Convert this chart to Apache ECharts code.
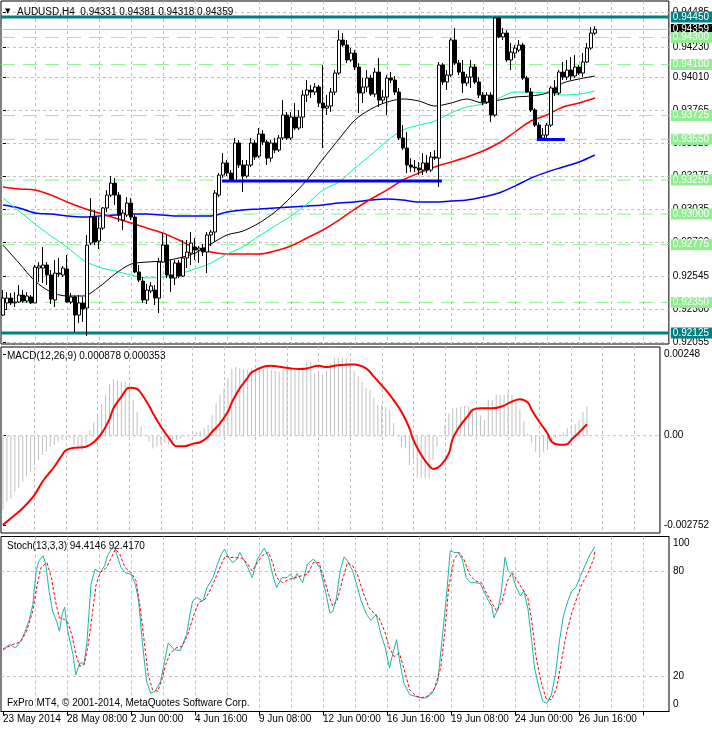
<!DOCTYPE html>
<html><head><meta charset="utf-8">
<script src="https://cdn.jsdelivr.net/npm/echarts@6/dist/echarts.min.js"></script>
<style>html,body{margin:0;padding:0;background:#fff}#c{width:712px;height:729px}</style>
</head><body><div id="c"></div>
<script>
const slotCount = 167;
const categories = Array.from({length: slotCount}, (_, i) => String(i));

const opens = [
0.92257,0.92346,0.92382,0.92346,0.92353,0.92404,0.92360,0.92390,0.92346,0.92603,
0.92603,0.92625,0.92552,0.92368,0.92566,0.92552,0.92596,0.92353,0.92390,0.92257,
0.92346,0.92309,0.92787,0.92978,0.92802,0.92897,0.93045,0.93140,0.93228,0.93140,
0.92956,0.92993,0.93081,0.92978,0.92574,0.92507,0.92368,0.92434,0.92441,0.92382,
0.92647,0.92772,0.92552,0.92529,0.92640,0.92544,0.92677,0.92713,0.92758,0.92735,
0.92750,0.92721,0.92846,0.92868,0.93140,0.93287,0.93376,0.93302,0.93243,0.93523,
0.93361,0.93280,0.93361,0.93523,0.93427,0.93589,0.93530,0.93412,0.93523,0.93471,
0.93560,0.93729,0.93560,0.93714,0.93633,0.93714,0.93876,0.93913,0.93898,0.93935,
0.93817,0.93780,0.93795,0.93898,0.94038,0.94281,0.94244,0.94134,0.94185,0.94082,
0.93891,0.93935,0.94001,0.93883,0.94045,0.93839,0.93861,0.94001,0.93986,0.93898,
0.93560,0.93486,0.93361,0.93346,0.93339,0.93324,0.93376,0.93324,0.93420,0.93412,
0.94097,0.93972,0.94023,0.94281,0.94111,0.94045,0.93964,0.94008,0.94082,0.93972,
0.93876,0.93824,0.93876,0.93729,0.94443,0.94303,0.94332,0.94134,0.94185,0.94207,
0.94244,0.94001,0.93898,0.93766,0.93655,0.93560,0.93582,0.93655,0.93928,0.93891,
0.94045,0.94008,0.94060,0.94016,0.94082,0.94038,0.94119,0.94222,0.94331];
const closes = [
0.92382,0.92382,0.92346,0.92353,0.92404,0.92360,0.92397,0.92346,0.92610,0.92618,
0.92625,0.92552,0.92375,0.92566,0.92559,0.92603,0.92353,0.92390,0.92257,0.92346,
0.92301,0.92772,0.92978,0.92794,0.92897,0.93045,0.93140,0.93228,0.93140,0.92993,
0.93008,0.93081,0.92978,0.92574,0.92515,0.92368,0.92441,0.92471,0.92382,0.92647,
0.92772,0.92552,0.92529,0.92640,0.92544,0.92677,0.92721,0.92787,0.92735,0.92750,
0.92721,0.92846,0.92868,0.93155,0.93287,0.93376,0.93302,0.93243,0.93523,0.93361,
0.93280,0.93361,0.93523,0.93420,0.93589,0.93530,0.93412,0.93523,0.93471,0.93560,
0.93729,0.93560,0.93714,0.93633,0.93714,0.93876,0.93913,0.93898,0.93935,0.93817,
0.93780,0.93795,0.93898,0.94038,0.94281,0.94244,0.94134,0.94185,0.94082,0.93891,
0.93935,0.94001,0.93883,0.94045,0.93839,0.93861,0.94001,0.93986,0.93898,0.93560,
0.93486,0.93361,0.93346,0.93339,0.93324,0.93376,0.93324,0.93420,0.93412,0.94097,
0.93972,0.94023,0.94281,0.94111,0.94045,0.93964,0.94008,0.94082,0.93972,0.93876,
0.93824,0.93876,0.93729,0.94443,0.94303,0.94332,0.94134,0.94192,0.94222,0.94244,
0.94001,0.93898,0.93766,0.93655,0.93560,0.93582,0.93655,0.93928,0.93891,0.94045,
0.94008,0.94060,0.94016,0.94082,0.94038,0.94119,0.94222,0.94332,0.94359];
const lows = [
0.92250,0.92294,0.92331,0.92316,0.92346,0.92346,0.92346,0.92338,0.92346,0.92500,
0.92493,0.92478,0.92338,0.92316,0.92537,0.92537,0.92346,0.92338,0.92132,0.92198,
0.92206,0.92103,0.92772,0.92772,0.92743,0.92883,0.93015,0.93125,0.93067,0.92942,
0.92883,0.92978,0.92956,0.92566,0.92500,0.92346,0.92338,0.92419,0.92331,0.92272,
0.92640,0.92529,0.92426,0.92478,0.92529,0.92537,0.92603,0.92625,0.92662,0.92640,
0.92691,0.92566,0.92765,0.92794,0.93125,0.93265,0.93280,0.93236,0.93236,0.93339,
0.93162,0.93265,0.93346,0.93398,0.93412,0.93508,0.93361,0.93383,0.93449,0.93457,
0.93545,0.93545,0.93545,0.93618,0.93618,0.93633,0.93824,0.93854,0.93876,0.93788,
0.93486,0.93729,0.93751,0.93876,0.94023,0.94229,0.94111,0.94119,0.94060,0.93744,
0.93817,0.93898,0.93869,0.93861,0.93788,0.93810,0.93729,0.93964,0.93876,0.93545,
0.93471,0.93302,0.93309,0.93309,0.93287,0.93287,0.93302,0.93309,0.93398,0.93199,
0.93950,0.93913,0.94008,0.94097,0.94023,0.93891,0.93942,0.93928,0.93957,0.93854,
0.93802,0.93810,0.93677,0.93714,0.94295,0.94281,0.94119,0.94060,0.94148,0.94192,
0.93986,0.93891,0.93751,0.93641,0.93545,0.93545,0.93538,0.93641,0.93869,0.93876,
0.93986,0.93986,0.93986,0.94001,0.94023,0.94008,0.94111,0.94207,0.94318];
const highs = [
0.92441,0.92426,0.92419,0.92426,0.92478,0.92441,0.92426,0.92404,0.92625,0.92647,
0.92758,0.92647,0.92588,0.92662,0.92677,0.92618,0.92699,0.92419,0.92400,0.92404,
0.92390,0.92846,0.93118,0.93030,0.92978,0.93052,0.93177,0.93280,0.93265,0.93162,
0.93030,0.93125,0.93118,0.92993,0.92625,0.92537,0.92485,0.92500,0.92478,0.92677,
0.92861,0.92846,0.92662,0.92662,0.92662,0.92809,0.92809,0.92868,0.92824,0.92765,
0.92780,0.92868,0.92883,0.93177,0.93302,0.93449,0.93398,0.93324,0.93560,0.93545,
0.93398,0.93398,0.93560,0.93545,0.93633,0.93618,0.93545,0.93545,0.93560,0.93582,
0.93839,0.93751,0.93751,0.93817,0.93766,0.93913,0.93986,0.93950,0.93964,0.93950,
0.94097,0.93876,0.93928,0.94060,0.94354,0.94332,0.94281,0.94222,0.94207,0.94111,
0.94001,0.94060,0.94023,0.94075,0.94148,0.93913,0.94023,0.94045,0.94016,0.93928,
0.93655,0.93604,0.93412,0.93398,0.93383,0.93449,0.93435,0.93457,0.93471,0.94119,
0.94111,0.94060,0.94295,0.94369,0.94134,0.94134,0.94031,0.94134,0.94104,0.94008,
0.93898,0.93898,0.93898,0.94450,0.94450,0.94369,0.94354,0.94259,0.94244,0.94281,
0.94259,0.94016,0.93928,0.93780,0.93677,0.93633,0.93670,0.93942,0.93986,0.94060,
0.94119,0.94134,0.94156,0.94170,0.94097,0.94185,0.94259,0.94376,0.94381];

const maBars = [0,4,8,12,16,20,24,28,32,36,40,44,48,52,56,60,64,68,72,76,80,84,88,92,96,100,104,108,112,116,120,124,128,132,136,140,144,148];
const maBlack = [0.92772,0.92640,0.92507,0.92427,0.92397,0.92397,0.92463,0.92559,0.92632,0.92647,0.92655,0.92677,0.92713,0.92780,0.92846,0.92875,0.92934,0.93015,0.93125,0.93251,0.93405,0.93552,0.93692,0.93773,0.93824,0.93847,0.93832,0.93795,0.93817,0.93847,0.93817,0.93839,0.93861,0.93869,0.93891,0.93964,0.93994,0.94016];
const maGreen = [0.93118,0.93022,0.92927,0.92839,0.92758,0.92662,0.92610,0.92581,0.92552,0.92530,0.92537,0.92559,0.92596,0.92640,0.92706,0.92758,0.92839,0.92912,0.92986,0.93074,0.93177,0.93236,0.93339,0.93435,0.93538,0.93619,0.93655,0.93685,0.93744,0.93788,0.93810,0.93854,0.93898,0.93898,0.93891,0.93876,0.93883,0.93905];
const maRed = [0.93199,0.93184,0.93177,0.93140,0.93089,0.93045,0.93008,0.92971,0.92934,0.92897,0.92861,0.92809,0.92750,0.92721,0.92706,0.92706,0.92706,0.92728,0.92765,0.92824,0.92883,0.92956,0.93037,0.93111,0.93177,0.93251,0.93302,0.93346,0.93383,0.93420,0.93464,0.93523,0.93604,0.93685,0.93729,0.93788,0.93817,0.93854];
const maBlue = [0.93067,0.93045,0.93008,0.93000,0.92986,0.92978,0.92986,0.92993,0.93000,0.93000,0.92993,0.92986,0.92986,0.92986,0.93015,0.93030,0.93037,0.93045,0.93052,0.93059,0.93067,0.93081,0.93089,0.93103,0.93111,0.93103,0.93089,0.93089,0.93096,0.93103,0.93125,0.93155,0.93206,0.93265,0.93309,0.93346,0.93383,0.93435];

const macdHist = [
-0.00227,-0.00202,-0.00192,-0.00171,-0.00161,-0.00141,-0.00125,-0.00110,-0.00090,-0.00074,
-0.00059,-0.00049,-0.00034,-0.00028,-0.00018,-0.00013,-0.00008,-0.00008,-0.00028,-0.00039,
-0.00044,-0.00028,0.00017,0.00041,0.00063,0.00096,0.00127,0.00157,0.00174,0.00170,
0.00165,0.00165,0.00145,0.00109,0.00073,0.00028,0.00002,-0.00018,-0.00039,-0.00034,
-0.00026,-0.00023,-0.00028,-0.00028,-0.00013,-0.00008,-0.00003,0.00001,0.00002,0.00010,
0.00014,0.00023,0.00033,0.00063,0.00099,0.00125,0.00145,0.00176,0.00206,0.00211,
0.00206,0.00204,0.00201,0.00206,0.00204,0.00206,0.00206,0.00211,0.00201,0.00198,
0.00196,0.00201,0.00206,0.00206,0.00206,0.00204,0.00211,0.00225,0.00226,0.00191,
0.00188,0.00188,0.00198,0.00222,0.00237,0.00239,0.00239,0.00237,0.00222,0.00198,
0.00181,0.00165,0.00145,0.00140,0.00116,0.00094,0.00094,0.00089,0.00079,0.00038,
0.00000,-0.00034,-0.00039,-0.00090,-0.00074,-0.00129,-0.00130,-0.00130,-0.00130,-0.00074,
-0.00034,0.00000,0.00033,0.00068,0.00084,0.00086,0.00089,0.00091,0.00089,0.00079,
0.00073,0.00063,0.00048,0.00109,0.00109,0.00126,0.00125,0.00125,0.00133,0.00125,
0.00109,0.00080,0.00045,0.00007,-0.00023,-0.00049,-0.00064,-0.00049,-0.00044,-0.00018,
-0.00008,0.00000,0.00010,0.00023,0.00028,0.00035,0.00048,0.00073,0.00088];
const macdSignal = [[0,-0.00273],[3,-0.00243],[5,-0.00222],[8,-0.00181],[10,-0.00141],[13,-0.00095],[15,-0.00059],[16,-0.00044],[18,-0.00037],[21,-0.00034],[23,-0.00020],[25,0.00007],[27,0.00051],[28,0.00084],[30,0.00119],[32,0.00147],[34,0.00143],[35,0.00130],[37,0.00092],[38,0.00069],[40,0.00028],[42,-0.00006],[44,-0.00032],[46,-0.00032],[48,-0.00025],[50,-0.00020],[52,-0.00003],[53,0.00012],[55,0.00038],[57,0.00073],[58,0.00102],[60,0.00145],[62,0.00177],[63,0.00194],[66,0.00211],[68,0.00214],[70,0.00211],[73,0.00206],[75,0.00204],[77,0.00206],[80,0.00214],[82,0.00210],[84,0.00214],[88,0.00218],[89,0.00218],[92,0.00206],[94,0.00181],[97,0.00140],[99,0.00109],[101,0.00073],[103,0.00023],[104,-0.00013],[106,-0.00059],[108,-0.00092],[109,-0.00102],[111,-0.00090],[113,-0.00054],[114,-0.00008],[116,0.00033],[118,0.00063],[119,0.00079],[121,0.00084],[124,0.00084],[127,0.00092],[128,0.00099],[131,0.00112],[133,0.00102],[134,0.00079],[136,0.00041],[138,0.00007],[139,-0.00018],[141,-0.00028],[143,-0.00026],[144,-0.00013],[146,0.00010],[148,0.00035]];

const stochK = [[0,35.9],[1.8,38.2],[3.1,36.3],[4.4,40.1],[5.4,44.9],[6.6,52.6],[7.45,61.2],[8.3,80.4],[9.0,86.1],[10.0,89.0],[10.7,84.2],[11.5,68.9],[12.4,57.4],[13.4,51.6],[14.1,45.9],[14.8,55.5],[15.4,59.7],[16.2,45.9],[17.5,32.5],[18.2,21.0],[19.2,27.7],[20.3,27.7],[21.0,40.1],[22.0,72.7],[23.0,81.3],[24.3,79.4],[25.4,83.2],[26.1,89.0],[27.1,92.8],[27.9,93.8],[28.8,87.1],[29.5,82.3],[30.5,79.4],[32.0,78.4],[33.1,72.7],[33.9,63.1],[34.9,38.2],[35.9,17.2],[36.9,10.5],[38.0,11.5],[39.4,17.2],[40.4,28.7],[41.3,39.2],[42.8,35.3],[44.3,34.8],[45.9,44.0],[46.9,57.4],[47.4,63.1],[48.4,65.1],[50.0,63.1],[51.0,70.8],[52.5,76.5],[53.6,84.2],[54.6,89.9],[55.4,92.8],[56.4,88.0],[57.4,85.1],[58.5,87.1],[59.2,90.9],[59.9,88.0],[61.2,82.3],[62.3,76.5],[63.6,87.1],[65.3,93.4],[66.4,88.0],[67.4,78.4],[68.4,70.8],[69.7,76.5],[71.0,76.5],[71.8,78.4],[72.8,75.5],[73.5,78.8],[74.9,73.6],[76.1,84.2],[77.6,87.1],[79.2,82.3],[80.7,67.9],[81.7,56.4],[82.4,57.0],[83.3,64.1],[84.3,80.4],[85.3,88.4],[86.1,86.1],[87.4,80.4],[88.4,72.7],[89.4,64.1],[90.9,55.4],[92.0,52.0],[93.3,55.4],[94.5,44.0],[95.6,36.3],[96.6,24.8],[97.6,34.4],[98.4,41.1],[99.1,29.6],[100.2,16.3],[101.7,9.6],[103.2,8.6],[104.8,7.7],[105.8,7.7],[107.3,10.5],[108.7,17.2],[109.9,44.0],[110.9,67.0],[111.8,91.8],[112.8,90.9],[113.8,90.9],[114.8,87.1],[115.8,76.5],[116.9,73.6],[118.1,73.6],[119.3,73.1],[120.4,67.9],[121.4,63.1],[122.2,60.3],[122.7,53.5],[123.7,58.3],[124.5,67.0],[125.5,88.0],[126.3,80.4],[127.3,78.4],[128.3,70.8],[129.4,66.0],[130.2,68.9],[131.2,59.3],[132.2,40.1],[132.9,24.8],[134.0,13.3],[135.0,5.7],[136.0,4.7],[137.1,9.5],[138.1,21.0],[139.1,40.1],[140.1,54.5],[141.2,63.1],[142.2,68.9],[143.2,70.8],[144.2,76.5],[145.3,82.3],[146.6,89.0],[147.6,92.8],[148,94.41]];
const stochD = [[0,35.3],[2.3,38.2],[4.4,39.8],[5.9,45.9],[7.45,57.4],[8.5,71.8],[9.5,82.3],[11.0,85.1],[12.1,76.5],[13.1,63.1],[14.1,53.5],[15.4,52.6],[16.2,50.7],[17.2,44.0],[18.2,32.5],[19.2,25.9],[20.3,26.8],[21.3,38.2],[22.3,55.4],[23.3,72.7],[24.3,79.4],[25.9,82.3],[26.9,87.1],[28.1,92.8],[29.2,89.9],[30.5,82.3],[32.0,79.4],[33.3,74.6],[34.3,59.3],[35.1,44.0],[36.3,21.0],[37.4,12.4],[38.7,11.5],[39.7,18.2],[40.7,26.8],[41.8,33.5],[43.3,36.3],[44.8,37.3],[46.2,44.0],[47.6,54.5],[48.9,62.2],[50.5,64.1],[51.7,68.9],[53.0,75.5],[54.4,83.2],[55.6,89.0],[56.6,88.0],[57.9,88.0],[59.7,87.6],[60.9,85.1],[62.3,80.4],[63.6,85.1],[64.8,89.0],[66.4,90.9],[67.4,85.1],[68.4,76.5],[69.9,73.6],[71.5,75.5],[73.0,76.5],[74.6,77.5],[76.1,78.4],[77.6,85.1],[79.0,85.1],[80.2,76.5],[81.4,66.9],[82.4,60.3],[83.5,63.1],[84.8,74.6],[86.1,85.1],[87.4,83.2],[88.6,78.4],[89.9,68.9],[91.5,59.3],[93.0,55.4],[94.0,53.5],[95.4,45.9],[96.6,36.3],[97.8,31.4],[99.1,33.3],[100.2,24.8],[101.7,12.3],[103.2,8.9],[104.8,7.9],[106.3,8.9],[107.9,13.3],[109.4,24.8],[110.4,44.0],[111.4,70.8],[112.8,87.1],[114.0,90.9],[115.2,87.1],[116.6,78.4],[118.1,74.6],[119.6,73.6],[121.0,67.0],[122.2,62.2],[123.4,57.4],[124.8,63.1],[126.1,74.6],[127.3,79.4],[128.6,74.6],[129.9,69.8],[131.2,65.1],[132.2,51.7],[133.3,30.6],[134.5,17.2],[135.7,7.7],[137.1,6.7],[138.4,13.4],[139.6,28.7],[140.8,44.0],[142.2,56.4],[143.5,65.1],[144.7,72.7],[146.3,79.4],[147.8,88.0],[148,92.42]];

const priceTicks = [0.92055,0.92300,0.92545,0.92790,0.93035,0.93275,0.93520,0.93765,0.94010,0.94230,0.94485];
const tealLevels = [0.94450, 0.92125];
const greenLevels = [0.94300,0.94100,0.93725,0.93550,0.93250,0.93000,0.92775,0.92350];
const blueTrends = [[54.75,109.75,0.93243],[133.5,140.5,0.93549]];
const macdTicks = [-0.002752, 0, 0.00248];
const macdTickLabels = ['-0.002752','0.00','0.00248'];
const macdLevels = [0];
const macdInfo = ['MACD(12,26,9)', '0.000878', '0.000353'];
const stochTicks = [0, 20, 80, 100];
const stochLevels = [20, 80];
const stochInfo = ['Stoch(13,3,3)', '94.4146', '92.4170'];
const gridBars = [8,16,24,32,40,48,56,64,72,80,88,96,104,112,120,128,136,144,152,160];
const xTickBars = [0,16,32,48,64,80,96,112,128,144];
const xTickLabels = ['23 May 2014','28 May 08:00','2 Jun 00:00','4 Jun 16:00','9 Jun 08:00','12 Jun 00:00','16 Jun 16:00','19 Jun 08:00','24 Jun 00:00','26 Jun 16:00'];
const symbolName = 'AUDUSD,H4';

const FONT = '"Liberation Sans", Arial, sans-serif';
const DASH = {color:'#c0c0c0', type:[3,3], width:1};
const last = opens.length - 1;
const xMin = -0.5, xMax = slotCount - 0.5;

const chart = echarts.init(document.getElementById('c'), null, {renderer:'canvas'});

function catAxis(g, showLabels) {
  return {type:'category', gridIndex:g, data:categories, boundaryGap:true, position:'bottom',
    axisLine:{show:showLabels, onZero:false, lineStyle:{color:'#000'}},
    axisTick:{show:showLabels, interval:15, alignWithLabel:true, length:4, lineStyle:{color:'#000'}},
    axisLabel:{show:showLabels, interval:15, align:'left', margin:3, fontSize:10, fontFamily:FONT, color:'#000',
      formatter:(v, i) => { const k = xTickBars.indexOf(i); return k >= 0 ? xTickLabels[k] : ''; }},
    splitLine:{show:false}};
}
function valAxis(g) {
  return {type:'value', gridIndex:g, min:xMin, max:xMax, position:'top', show:true,
    axisLine:{show:false}, axisLabel:{show:false},
    axisTick:{show:false, customValues:gridBars},
    splitLine:{show:true, lineStyle:DASH}};
}
function flatLine(xi, yi, v, style, z, label) {
  const s = {type:'line', xAxisIndex:xi, yAxisIndex:yi, data:[[xMin, v],[xMax, v]], symbol:'none',
    lineStyle:style, silent:true, z:z, animation:false};
  if (label) s.endLabel = label;
  return s;
}
function levelLabel(text, bg) {
  return {show:true, distance:2, formatter:text, backgroundColor:bg, color:'#fff', valueAnimation:false,
    padding:[1,8,0,2], lineHeight:10, fontSize:10, fontFamily:FONT};
}

const series = [];
// price levels (horizontal lines with boxed price tags on the right)
series.push(flatLine(3, 0, closes[last], {color:'#c0c0c0', width:1, type:'solid'}, 1, levelLabel(closes[last].toFixed(5), '#000')));
tealLevels.forEach(p => series.push(flatLine(3, 0, p, {color:'#008080', width:3, type:'solid'}, 1.2, levelLabel(p.toFixed(5), '#008080'))));
greenLevels.forEach(p => series.push(flatLine(3, 0, p, {color:'#90ee90', width:1, type:[14,8]}, 1.4, levelLabel(p.toFixed(5), '#90ee90'))));

const maDefs = [[maBlue,'#0000ff',1.5],[maRed,'#ff0000',1.5],[maGreen,'#00fa9a',1],[maBlack,'#000000',1]];
maDefs.forEach(([arr, col, w]) => series.push({type:'line', xAxisIndex:3, yAxisIndex:0,
  data: maBars.map((b, i) => [b, arr[i]]), symbol:'none', smooth:0.3, lineStyle:{color:col, width:w}, z:2, silent:true, animation:false}));
series.push({type:'candlestick', xAxisIndex:0, yAxisIndex:0, barWidth:3, z:4, silent:true, animation:false,
  data: opens.map((o, i) => [o, closes[i], lows[i], highs[i]]),
  itemStyle:{color:'#ffffff', color0:'#000000', borderColor:'#000000', borderColor0:'#000000', borderColorDoji:'#000000', borderWidth:1}});
blueTrends.forEach(([a, b, p]) => series.push({type:'line', xAxisIndex:3, yAxisIndex:0, data:[[a,p],[b,p]], symbol:'none',
  lineStyle:{color:'#0000ff', width:3}, z:5, silent:true, animation:false}));

macdLevels.forEach(v => series.push(flatLine(4, 1, v, DASH, 1)));
series.push({type:'bar', xAxisIndex:1, yAxisIndex:1, data:macdHist, barWidth:1, itemStyle:{color:'#c0c0c0'}, z:2, silent:true, animation:false});
series.push({type:'line', xAxisIndex:4, yAxisIndex:1, data:macdSignal, symbol:'none', smooth:0.4, lineStyle:{color:'#ff0000', width:2}, z:3, silent:true, animation:false});

stochLevels.forEach(v => series.push(flatLine(5, 2, v, DASH, 1)));
series.push({type:'line', xAxisIndex:5, yAxisIndex:2, data:stochK, symbol:'none', lineStyle:{color:'#20b2aa', width:1}, z:3, silent:true, animation:false});
series.push({type:'line', xAxisIndex:5, yAxisIndex:2, data:stochD, symbol:'none', lineStyle:{color:'#ff0000', width:1, type:[3,2]}, z:3, silent:true, animation:false});

const labelBase = {margin:4, fontSize:10, fontFamily:FONT, color:'#000'};
const titleText = symbolName + '  ' + [opens[last], highs[last], lows[last], closes[last]].map(v => v.toFixed(5)).join(' ');

chart.setOption({
  animation:false,
  backgroundColor:'#ffffff',
  grid:[
    {left:1, right:43, top:1, height:343, show:true, borderColor:'#000', borderWidth:1},
    {left:1, right:43, top:347, height:186, show:true, borderColor:'#000', borderWidth:1},
    {left:1, right:43, top:536.5, height:175, show:true, borderColor:'#000', borderWidth:1}
  ],
  xAxis:[catAxis(0,false), catAxis(1,false), catAxis(2,true), valAxis(0), valAxis(1), valAxis(2)],
  yAxis:[
    {type:'value', gridIndex:0, position:'right', min:0.92044, max:0.94568,
     axisLine:{show:false}, axisTick:{show:true, length:3, customValues:priceTicks, lineStyle:{color:'#000'}},
     axisLabel:Object.assign({customValues:priceTicks, formatter:v => v.toFixed(5)}, labelBase),
     splitLine:{show:true, lineStyle:DASH}},
    {type:'value', gridIndex:1, position:'right', min:-0.002979, max:0.002716,
     axisLine:{show:false}, axisTick:{show:true, length:3, customValues:macdTicks, lineStyle:{color:'#000'}},
     axisLabel:Object.assign({customValues:macdTicks, formatter:v => { const k = macdTicks.indexOf(v); return k >= 0 ? macdTickLabels[k] : ''; }}, labelBase),
     splitLine:{show:false}},
    {type:'value', gridIndex:2, position:'right', min:0, max:100,
     axisLine:{show:false}, axisTick:{show:false, customValues:stochTicks},
     axisLabel:Object.assign({customValues:stochTicks,
       formatter:v => v === 100 ? '{t|100}' : (v === 0 ? '{b|0}' : '{m|' + v + '}'),
       rich:{t:{padding:[13,0,0,0], lineHeight:11, fontSize:10, fontFamily:FONT}, b:{padding:[0,0,15,0], lineHeight:11, fontSize:10, fontFamily:FONT}, m:{lineHeight:11, fontSize:10, fontFamily:FONT}}}, labelBase),
     splitLine:{show:false}}
  ],
  graphic:[
    {type:'text', left:5, top:8, z:100, style:{text:'\u25BC', font:'7px "DejaVu Sans"', fill:'#000'}},
    {type:'text', left:17, top:7, z:100, style:{text:titleText, font:'10px ' + FONT, fill:'#000'}},
    {type:'text', left:7, top:351, z:100, style:{text:macdInfo.join(' '), font:'10px ' + FONT, fill:'#000'}},
    {type:'text', left:7, top:541, z:100, style:{text:stochInfo.join(' '), font:'10px ' + FONT, fill:'#000'}},
    {type:'text', left:7, top:698, z:100, style:{text:'FxPro MT4, \u00A9 2001-2014, MetaQuotes Software Corp.', font:'10px ' + FONT, fill:'#000'}}
  ],
  series: series
});
</script></body></html>
